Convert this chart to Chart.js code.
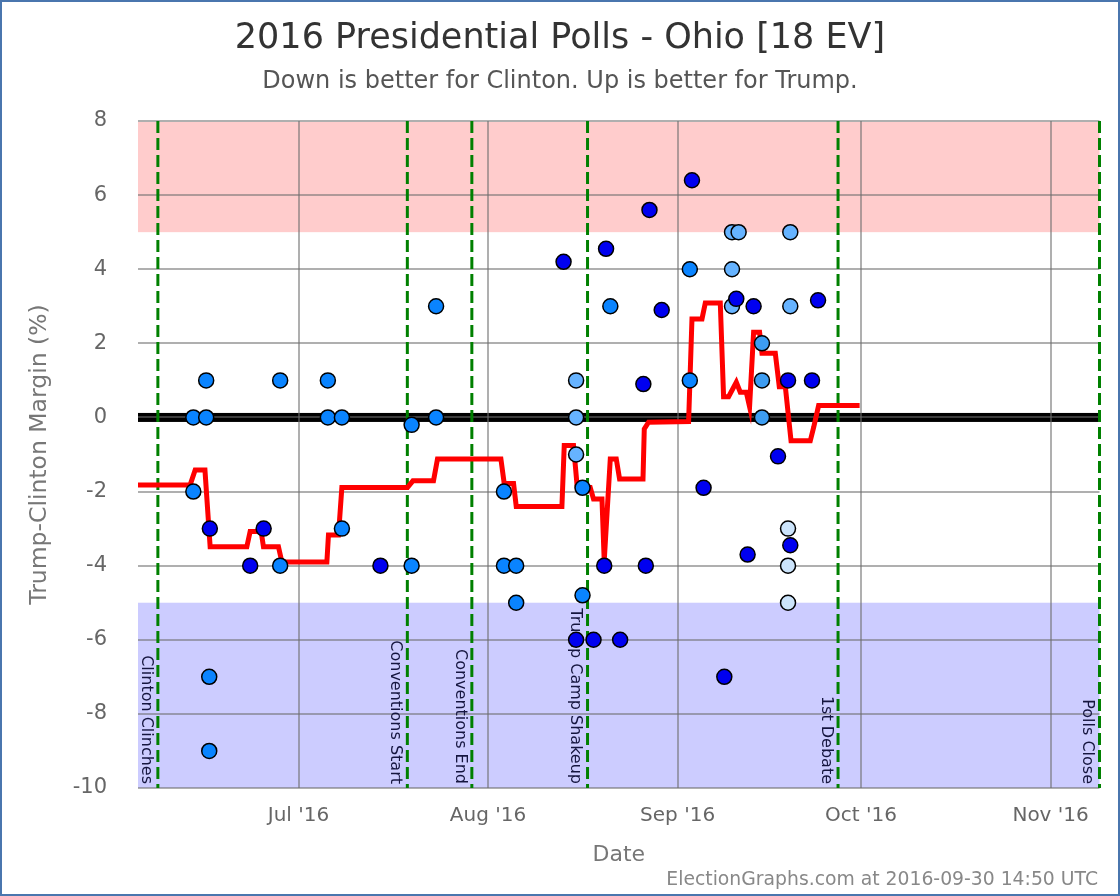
<!DOCTYPE html>
<html>
<head>
<meta charset="utf-8">
<script src="https://cdn.jsdelivr.net/npm/chart.js@4.4.1/dist/chart.umd.min.js"></script>
<style>
html,body{margin:0;padding:0;background:#fff;}
#wrap{width:1120px;height:896px;position:relative;}
canvas{display:block;}
</style>
</head>
<body>
<div id="wrap"><canvas id="c" width="1120" height="896"></canvas></div>
<script>
// Day numbers count days since 2016-06-01 (Jun 1 = 0)
const xRange = [3.75, 161];
const yRange = [-10, 8];
const tickDays = [30, 61, 92, 122, 153];
const tickLabels = ["Jul '16", "Aug '16", "Sep '16", "Oct '16", "Nov '16"];

const eventDays = [7.0, 47.8, 58.35, 77.27, 118.24, 161];
const eventLabels = ["Clinton Clinches", "Conventions Start", "Conventions End", "Trump Camp Shakeup", "1st Debate", "Polls Close"];

const trumpBandFrom = 5;
const clintonBandFrom = -5;

// Individual polls: date, margin, shade code (0 dark .. 4 very light)
const pollDays = [12.8, 14.9, 14.9, 12.8, 15.5, 15.4, 15.4, 22.1, 24.3, 27.0,
  27.0, 34.8, 34.8, 37.1, 37.1, 43.4, 48.5, 48.5, 52.5, 52.5,
  63.6, 63.6, 65.6, 65.6, 73.35, 75.4, 75.4, 75.4, 76.45, 76.45,
  75.4, 78.25, 80.0, 80.3, 81.0, 82.6, 86.4, 86.8, 87.4, 89.4,
  94.0, 94.0, 94.35, 96.25, 99.64, 100.9, 101.98, 100.9, 100.9, 101.6,
  103.45, 104.43, 105.8, 105.8, 105.8, 108.42, 110.06, 110.06, 110.06, 110.06,
  110.43, 110.43, 110.43, 113.98, 114.97];
const pollMargins = [0, 0, 1, -2, -3, -7, -9, -4, -3, -4,
  1, 1, 0, 0, -3, -4, -4, -0.2, 0, 3,
  -2, -4, -4, -5, 4.2, 1, 0, -1, -1.9, -4.8,
  -6, -6, -4, 4.55, 3, -6, 0.9, -4, 5.6, 2.9,
  4, 1, 6.4, -1.9, -7, 5, 5, 4, 3, 3.2,
  -3.7, 3, 2, 1, 0, -1.05, 1, -3, -4, -5,
  -3.45, 5, 3, 1, 3.16];
const pollShades = [1, 1, 1, 1, 0, 1, 1, 0, 0, 1,
  1, 1, 1, 1, 1, 0, 1, 1, 1, 1,
  1, 1, 1, 1, 0, 3, 3, 3, 1, 1,
  0, 0, 0, 0, 1, 0, 0, 0, 0, 0,
  1, 1, 0, 0, 0, 3, 3, 3, 3, 0,
  0, 0, 2, 2, 2, 0, 0, 4, 4, 4,
  0, 3, 3, 0, 0];
const shadePalette = ["#0000f0", "#0a84ff", "#3d9df2", "#66b3ff", "#cce4fb"];

// Running average (red line) vertices
const avgDays = [3.75, 12.28, 13.1, 14.7, 15.55, 21.55, 22.09, 23.89, 24.27, 26.72,
  27.28, 34.64, 34.9, 36.54, 37.09, 47.82, 48.71, 52.08, 52.73, 63.1,
  63.64, 65.17, 65.61, 73.08, 73.46, 74.98, 75.59, 77.71, 78.25, 79.63,
  80.0, 80.99, 81.97, 82.51, 86.34, 86.55, 87.25, 93.8, 94.35, 95.99,
  96.53, 98.98, 99.52, 100.34, 101.6, 102.25, 103.23, 103.77, 104.43, 105.41,
  105.8, 107.98, 108.63, 109.62, 110.55, 113.7, 114.25, 115.06, 121.77];
const avgMargins = [-1.82, -1.82, -1.42, -1.42, -3.49, -3.49, -3.08, -3.08, -3.49, -3.49,
  -3.9, -3.9, -3.17, -3.17, -1.89, -1.89, -1.71, -1.71, -1.12, -1.12,
  -1.78, -1.78, -2.40, -2.40, -0.76, -0.76, -1.89, -1.89, -2.2, -2.2,
  -3.87, -1.12, -1.12, -1.66, -1.66, -0.31, -0.13, -0.11, 2.66, 2.66,
  3.09, 3.09, 0.56, 0.56, 0.95, 0.68, 0.68, 0.29, 2.30, 2.30,
  1.73, 1.73, 0.83, 0.83, -0.63, -0.63, -0.27, 0.32, 0.32];

const FONT = "'DejaVu Sans', 'Open Sans', sans-serif";
Chart.defaults.font.family = FONT;

const decorPlugin = {
  id: 'decor',
  beforeDraw(chart) {
    const {ctx, chartArea: a, scales: {y}} = chart;
    ctx.save();
    ctx.fillStyle = '#ffffff';
    ctx.fillRect(0, 0, chart.width, chart.height);
    const yT = y.getPixelForValue(trumpBandFrom);
    const yC = y.getPixelForValue(clintonBandFrom);
    ctx.fillStyle = 'rgb(255,204,204)';
    ctx.fillRect(a.left, a.top + 1, a.right - a.left, yT - a.top - 1);
    ctx.fillStyle = 'rgb(204,204,255)';
    ctx.fillRect(a.left, yC, a.right - a.left, a.bottom - yC);
    const y0 = y.getPixelForValue(0);
    ctx.fillStyle = '#000000';
    ctx.fillRect(a.left, y0 - 4.5, a.right - a.left, 9);
    ctx.restore();
  },
  beforeDatasetsDraw(chart) {
    const {ctx, chartArea: a, scales: {x}} = chart;
    ctx.save();
    eventDays.forEach((d, i) => {
      const px = x.getPixelForValue(d);
      ctx.strokeStyle = '#008000';
      ctx.lineWidth = 3;
      ctx.setLineDash([12, 5]);
      ctx.beginPath();
      ctx.moveTo(px, a.top);
      ctx.lineTo(px, a.bottom);
      ctx.stroke();
      ctx.setLineDash([]);
      ctx.save();
      ctx.translate(px - 4, a.bottom - 4);
      ctx.rotate(Math.PI / 2);
      ctx.fillStyle = '#15153f';
      ctx.font = '16px ' + FONT;
      ctx.textAlign = 'right';
      ctx.textBaseline = 'top';
      ctx.fillText(eventLabels[i], 0, 0);
      ctx.restore();
    });
    ctx.restore();
  },
  afterDraw(chart) {
    const {ctx} = chart;
    ctx.save();
    ctx.fillStyle = '#888888';
    ctx.font = '18.8px ' + FONT;
    ctx.textAlign = 'right';
    ctx.textBaseline = 'middle';
    ctx.fillText('ElectionGraphs.com at 2016-09-30 14:50 UTC', 1098, 880);
    ctx.strokeStyle = '#4a76ae';
    ctx.lineWidth = 2;
    ctx.strokeRect(1, 1, chart.width - 2, chart.height - 2);
    ctx.restore();
  }
};

const polls = pollDays.map((d, i) => ({x: d, y: pollMargins[i]}));
const avg = avgDays.map((d, i) => ({x: d, y: avgMargins[i]}));

new Chart(document.getElementById('c'), {
  data: {
    datasets: [
      {
        type: 'scatter',
        data: polls,
        order: 1,
        pointRadius: 7.5,
        pointBorderWidth: 1.5,
        pointBorderColor: '#000000',
        pointBackgroundColor: pollShades.map(s => shadePalette[s]),
        pointHoverRadius: 7.5
      },
      {
        type: 'line',
        data: avg,
        order: 2,
        borderColor: '#ff0000',
        borderWidth: 5,
        pointRadius: 0,
        tension: 0,
        fill: false
      }
    ]
  },
  options: {
    responsive: false,
    animation: false,
    events: [],
    layout: {padding: {left: 20.5, right: 20.5, top: 0, bottom: 0}},
    plugins: {
      legend: {display: false},
      tooltip: {enabled: false},
      title: {
        display: true,
        text: '2016 Presidential Polls - Ohio [18 EV]',
        color: '#333333',
        font: {size: 35, weight: 'normal', lineHeight: 1.2},
        padding: {top: 17.5, bottom: 4}
      },
      subtitle: {
        display: true,
        text: 'Down is better for Clinton. Up is better for Trump.',
        color: '#555555',
        font: {size: 24, weight: 'normal', lineHeight: 1.2},
        padding: {top: 3.6, bottom: 25.1}
      }
    },
    scales: {
      x: {
        type: 'linear',
        min: xRange[0],
        max: xRange[1],
        afterBuildTicks: (s) => { s.ticks = tickDays.map(v => ({value: v})); },
        afterFit: (s) => { s.height = 108; },
        ticks: {
          callback: (v) => tickLabels[tickDays.indexOf(v)],
          color: '#666666',
          font: {size: 20},
          padding: 16,
          maxRotation: 0,
          autoSkip: false
        },
        grid: {color: 'rgba(110,110,110,0.55)', lineWidth: 2, drawTicks: false},
        border: {display: false},
        title: {display: true, text: 'Date', color: '#777777', font: {size: 22}, padding: {top: 0, bottom: 28}}
      },
      y: {
        type: 'linear',
        min: yRange[0],
        max: yRange[1],
        afterFit: (s) => { s.width = 117.5; },
        ticks: {stepSize: 2, color: '#666666', font: {size: 21}, padding: 31},
        grid: {color: 'rgba(110,110,110,0.55)', lineWidth: 2, drawTicks: false},
        border: {display: false},
        title: {display: true, text: 'Trump-Clinton Margin (%)', color: '#777777', font: {size: 23.5}, padding: {top: 5, bottom: 0}}
      }
    }
  },
  plugins: [decorPlugin]
});
</script>
</body>
</html>
